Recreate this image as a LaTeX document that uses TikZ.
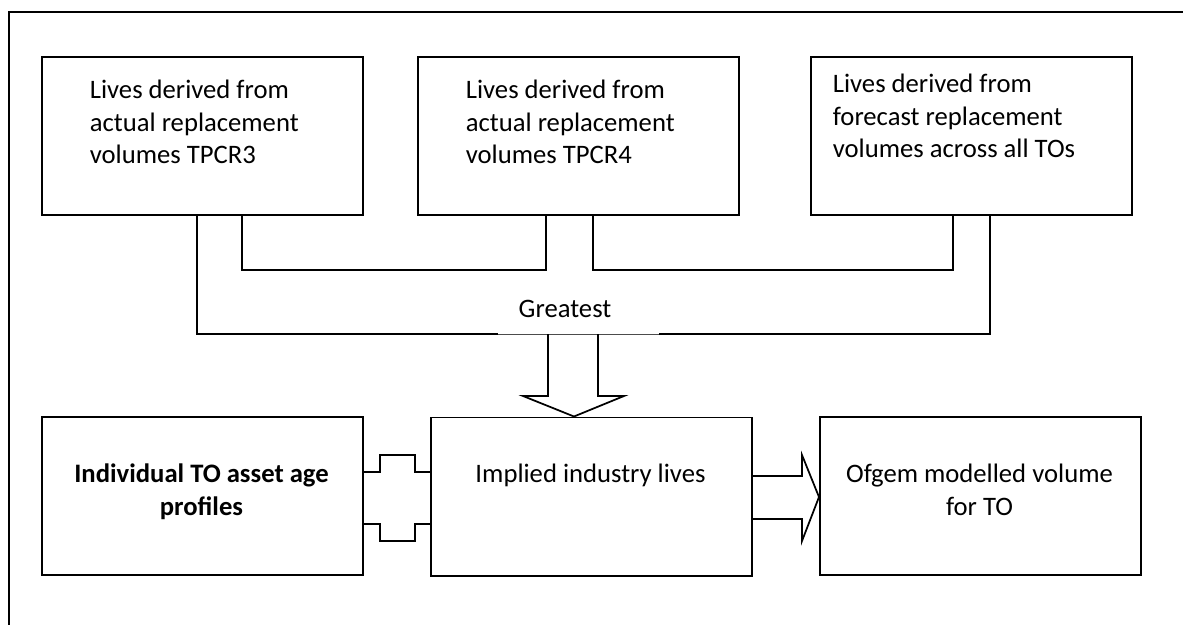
\documentclass[tikz,border=0pt]{standalone}
\usepackage{fontspec}
\setmainfont{Carlito}
\usetikzlibrary{calc}
\begin{document}
\begin{tikzpicture}[x=0.75pt,y=-0.75pt,line width=1.3pt,
  boxnode/.style={draw,line width=1.4pt,inner sep=0pt,anchor=north west,minimum width=240.75pt,minimum height=118.75pt},
  txt/.style={inner sep=0pt,font=\fontsize{20pt}{24.4pt}\selectfont},
  conn/.style={line width=1.4pt},
  thinline/.style={line width=0.6pt,draw=black!70}]
\useasboundingbox (0,0) rectangle (1183,625);
% outer frame (clipped by page)
\draw[line width=1.2pt] (9,625) -- (9,12) -- (1183,12);
% boxes
\node[boxnode] (b1) at (41,56) {};
\node[boxnode] (b2) at (417,56) {};
\node[boxnode] (b3) at (810,56) {};
\node[boxnode] (b4) at (41,416) {};
\node[boxnode] (b5) at (430,416.5) {};
\node[boxnode] (b6) at (819,416) {};
% texts
\node[txt,anchor=north west,align=left] (t1) at (89,71.3) {\rule{0pt}{20pt}Lives derived from\\actual replacement\\volumes TPCR3};
\node[txt,anchor=north west,align=left] (t2) at (465,71.3) {\rule{0pt}{20pt}Lives derived from\\actual replacement\\volumes TPCR4};
\node[txt,anchor=north west,align=left] (t3) at (832,65.3) {\rule{0pt}{20pt}Lives derived from\\forecast replacement\\volumes across all TOs};
\node[txt,anchor=north,align=center,font=\fontsize{20pt}{24.4pt}\selectfont\bfseries] (t4) at (201.5,455.3) {\rule{0pt}{20pt}Individual TO asset age\\profiles};
\node[txt,anchor=north,align=center] (t5) at (590.5,455.3) {\rule{0pt}{20pt}Implied industry lives};
\node[txt,anchor=north,align=center] (t6) at (979.5,455.3) {\rule{0pt}{20pt}Ofgem modelled volume\\for TO};
\node[txt,anchor=north] (g) at (565,290.3) {\rule{0pt}{20pt}Greatest};
% inner brackets
\draw[conn] ($(b1.south west)+(201,0)$) |- ($(b2.south west)+(129,54)$) -- ($(b2.south west)+(129,0)$);
\draw[conn] ($(b2.south west)+(176,0)$) |- ($(b3.south west)+(143,54)$) -- ($(b3.south west)+(143,0)$);
% outer bracket
\draw[conn] ($(b1.south west)+(156,0)$) |- (498,334);
\draw[conn] (659,334) -| ($(b3.south west)+(180,0)$);
\draw[thinline] (498,334) -- (659,334);
% down block arrow to b5
\coordinate (dtip) at ($(b5.north west)+(144,0)$);
\draw[line width=1.3pt,line join=miter] (548,334) -- (548,396) -- (523,396) -- (dtip) -- (624,396) -- (598,396) -- (598,334);
% plus connector between b4 and b5
\draw[conn] ($(b4.north east)+(0,56)$) -- ++(16,0) -- ++(0,-17) -- ++(35,0) -- ++(0,17) -- ($(b5.north west)+(0,55.5)$);
\draw[conn] ($(b4.north east)+(0,108)$) -- ++(16,0) -- ++(0,17) -- ++(35,0) -- ++(0,-17) -- ($(b5.north west)+(0,107.5)$);
% right block arrow b5 -> b6
\coordinate (rtip) at ($(b6.north west)+(0,81)$);
\draw[line width=1.3pt,line join=miter] ($(b5.north east)+(0,59.5)$) -- (802,476) -- (802,455) -- (rtip) -- (802,541) -- (802,519) -- ($(b5.north east)+(0,102.5)$);
\end{tikzpicture}
\end{document}
